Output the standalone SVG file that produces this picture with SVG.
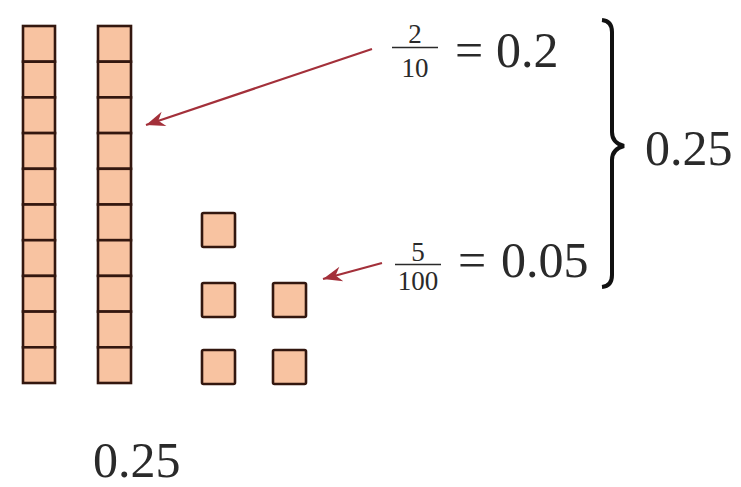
<svg xmlns="http://www.w3.org/2000/svg" width="741" height="487" viewBox="0 0 741 487">
<style>
.cell{fill:#F8C3A1;stroke:#33170f;stroke-width:2.6}
.arrow{stroke:#a3303a;stroke-width:2.2;fill:none}
.t{fill:#2a2a2a}
.big{font-size:50px}
.frac{font-size:27px;text-anchor:middle}
.bar{stroke:#2a2a2a;stroke-width:1.6}
</style>
<defs>
<marker id="ah" viewBox="-20 -8 22 16" refX="0" refY="0" markerWidth="22" markerHeight="16" markerUnits="userSpaceOnUse" orient="auto">
<path d="M0,0 L-19,-7.5 L-13,0 L-19,7.5 Z" fill="#a3303a"/>
</marker>
</defs>
<rect width="741" height="487" fill="#ffffff"/>
<g id="column1">
<rect class="cell" x="23" y="26" width="32" height="35.7"/>
<rect class="cell" x="23" y="61.7" width="32" height="35.7"/>
<rect class="cell" x="23" y="97.4" width="32" height="35.7"/>
<rect class="cell" x="23" y="133.1" width="32" height="35.7"/>
<rect class="cell" x="23" y="168.8" width="32" height="35.7"/>
<rect class="cell" x="23" y="204.5" width="32" height="35.7"/>
<rect class="cell" x="23" y="240.2" width="32" height="35.7"/>
<rect class="cell" x="23" y="275.9" width="32" height="35.7"/>
<rect class="cell" x="23" y="311.6" width="32" height="35.7"/>
<rect class="cell" x="23" y="347.3" width="32" height="35.7"/>
</g>
<g id="column2">
<rect class="cell" x="98" y="26" width="33" height="35.7"/>
<rect class="cell" x="98" y="61.7" width="33" height="35.7"/>
<rect class="cell" x="98" y="97.4" width="33" height="35.7"/>
<rect class="cell" x="98" y="133.1" width="33" height="35.7"/>
<rect class="cell" x="98" y="168.8" width="33" height="35.7"/>
<rect class="cell" x="98" y="204.5" width="33" height="35.7"/>
<rect class="cell" x="98" y="240.2" width="33" height="35.7"/>
<rect class="cell" x="98" y="275.9" width="33" height="35.7"/>
<rect class="cell" x="98" y="311.6" width="33" height="35.7"/>
<rect class="cell" x="98" y="347.3" width="33" height="35.7"/>
</g>
<g id="units">
<rect class="cell" x="202" y="213" width="33" height="34" rx="1.5"/>
<rect class="cell" x="202" y="283" width="33" height="34" rx="1.5"/>
<rect class="cell" x="273" y="283" width="33" height="34" rx="1.5"/>
<rect class="cell" x="202" y="350" width="33" height="34" rx="1.5"/>
<rect class="cell" x="273" y="350" width="33" height="34" rx="1.5"/>
</g>
<g id="connectors">
<line class="arrow" x1="372" y1="49" x2="146" y2="125" marker-end="url(#ah)"/>
<line class="arrow" x1="382" y1="263" x2="323" y2="279" marker-end="url(#ah)"/>
</g>
<g font-family="'Liberation Serif', 'Times New Roman', Times, serif">
<g id="label-tenths">
<text class="t frac" x="415" y="43">2</text>
<line class="bar" x1="392" y1="47.5" x2="438" y2="47.5"/>
<text class="t frac" x="415" y="77">10</text>
<text class="t big" x="455" y="67">=</text>
<text class="t big" x="496" y="67">0.2</text>
</g>
<g id="label-hundredths">
<text class="t frac" x="418" y="261">5</text>
<line class="bar" x1="395" y1="264.5" x2="441" y2="264.5"/>
<text class="t frac" x="418" y="290">100</text>
<text class="t big" x="458" y="277">=</text>
<text class="t big" x="501" y="277">0.05</text>
</g>
<g id="label-total">
<text class="t big" x="645" y="165">0.25</text>
</g>
<g id="label-bottom">
<text class="t big" x="93" y="477" font-size="49">0.25</text>
</g>
</g>
<g id="brace">
<path d="M602,20 Q612,21 612,32 L612,132 Q612,143 624,146 Q612,149 612,160 L612,275 Q612,286 602,287" fill="none" stroke="#111" stroke-width="4"/>
</g>
</svg>
